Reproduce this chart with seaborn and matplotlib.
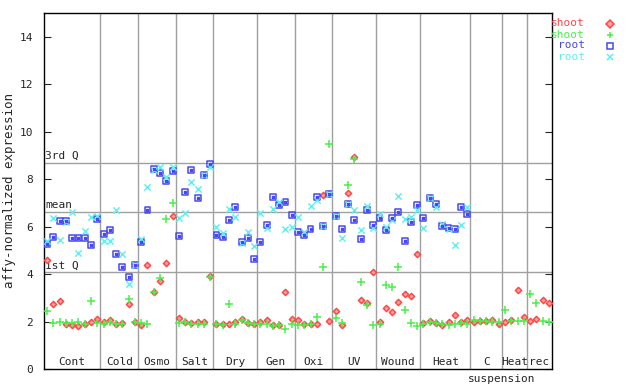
import numpy as np
import pandas as pd
import matplotlib
matplotlib.use('Agg')
import matplotlib.pyplot as plt
import matplotlib.transforms as mtransforms
import seaborn as sns

# sample groups (number of samples per treatment)
groups = ['Cont', 'Cold', 'Osmo', 'Salt', 'Dry', 'Gen', 'Oxi', 'UV', 'Wound', 'Heat', 'C', 'Heat', 'rec']
group_sizes = [9, 6, 6, 6, 7, 6, 6, 7, 7, 8, 5, 4, 4]

shoot_red = [4.6, 2.74, 2.86, 1.91, 1.87, 1.83, 1.91, 1.97, 2.12,
             2.0, 2.07, 1.9, 1.93, 2.74, 1.98,
             1.87, 4.37, 3.25, 3.7, 4.46, 6.44,
             2.14, 1.98, 1.92, 1.98, 1.98, 3.92,
             1.9, 1.91, 1.91, 1.96, 2.1, 1.93, 1.91,
             1.96, 2.07, 1.87, 1.87, 3.23, 2.1,
             2.05, 1.88, 1.91, 1.91, 7.33, 2.01,
             2.43, 1.84, 7.41, 8.93, 2.9, 2.78, 4.08,
             1.97, 2.56, 2.39, 2.81, 3.15, 3.07, 4.84,
             1.93, 2.02, 1.93, 1.87, 1.96, 2.26, 1.96, 2.07,
             1.97, 2.01, 2.03, 2.07, 1.9,
             1.97, 2.07, 3.33, 2.17,
             2.03, 2.11, 2.9, 2.77]

shoot_green = [2.43, 1.93, 1.96, 1.92, 1.94, 2.0, 1.91, 2.86, 1.94,
               1.89, 1.96, 1.9, 1.91, 2.94, 1.98,
               1.93, 1.9, 3.26, 3.84, 6.31, 7.0,
               1.95, 1.96, 1.9, 1.9, 1.9, 3.88,
               1.9, 1.87, 2.73, 1.91, 2.05, 1.93, 1.91,
               1.91, 1.9, 1.83, 1.87, 1.67, 1.91,
               1.85, 1.85, 1.9, 2.18, 4.29, 9.48,
               2.14, 1.94, 7.75, 8.85, 3.66, 2.7, 1.84,
               1.9, 3.53, 3.45, 4.3, 2.48, 1.94, 1.8,
               1.91, 1.96, 1.93, 1.9, 1.87, 1.91, 1.92, 1.9,
               2.07, 2.01, 2.03, 1.97, 1.98,
               2.49, 2.03, 2.01, 2.03,
               3.16, 2.77, 2.04, 1.97]

nan = np.nan
root_blue = [5.26, 5.57, 6.24, 6.22, 5.51, 5.51, 5.51, 5.22, 6.31,
             5.68, 5.86, 4.84, 4.3, 3.87, 4.39,
             5.35, 6.7, 8.44, 8.26, 7.92, 8.34,
             5.6, 7.45, 8.38, 7.2, 8.16, 8.62,
             5.64, 5.56, 6.27, 6.82, 5.35, 5.51, 4.63,
             5.35, 6.06, 7.24, 6.9, 7.03, 6.48,
             5.78, 5.64, 5.89, 7.24, 6.03, 7.37,
             6.44, 5.89, 6.96, 6.27, 5.47, 6.71, 6.06,
             6.36, 5.85, 6.36, 6.62, 5.4, 6.19, 6.9,
             6.36, 7.2, 6.96, 6.02, 5.93, 5.89, 6.82, 6.53] + [nan] * 13

root_cyan = [5.41, 6.36, 5.43, 6.2, 6.62, 4.88, 5.82, 6.4, 6.46,
             5.4, 5.4, 6.7, 4.84, 3.57, 4.4,
             5.49, 7.67, 8.37, 8.5, 8.07, 8.52,
             6.36, 6.57, 7.88, 7.58, 8.16, 8.5,
             5.98, 5.74, 6.74, 6.4, 5.3, 5.78, 5.18,
             6.57, 5.93, 6.74, 7.05, 5.89, 5.98,
             6.4, 5.78, 6.86, 7.13, 6.03, 7.37,
             6.44, 5.51, 6.96, 6.7, 5.85, 6.88, 5.93,
             6.55, 5.99, 6.26, 7.29, 6.31, 6.4, 6.68,
             5.93, 7.2, 6.82, 6.1, 5.89, 5.22, 6.06, 6.82] + [nan] * 13

quartiles = {'3rd Q': 8.68, 'mean': 6.61, '1st Q': 4.08}

n = sum(group_sizes)
pos = np.arange(n) + 0.5

sns.set_style('ticks')
plt.rcParams['font.family'] = ['DejaVu Sans Mono']

fig = plt.figure(figsize=(6.4, 3.84), dpi=100)
ax = fig.add_axes([44 / 640, 15 / 384, 508 / 640, 356 / 384])

grey = '#a0a0a0'
bounds = np.cumsum(group_sizes)
for b in bounds[:-1]:
    ax.axvline(b, color=grey, lw=1, zorder=0)
for name, v in quartiles.items():
    ax.axhline(v, color=grey, lw=1, zorder=0)
    ax.text(0.15, v + 0.08, name, fontsize=8, ha='left', va='bottom')

series = [
    ('shoot', shoot_red, '#ff4848', 'D', 10, '#ffa0a0'),
    ('shoot', shoot_green, '#48f048', '+', 30, None),
    ('root', root_blue, '#4848f0', 's', 18, 'none'),
    ('root', root_cyan, '#60f0f0', 'x', 20, None),
]
for label, vals, col, mk, sz, fc in series:
    df = pd.DataFrame({'pos': pos, 'value': vals}).dropna()
    if fc is None:
        sns.scatterplot(data=df, x='pos', y='value', color=col, marker=mk, s=sz,
                        linewidth=1.1, ax=ax, zorder=3)
    else:
        sns.scatterplot(data=df, x='pos', y='value', marker=mk, s=sz,
                        facecolor=fc, edgecolor=col, linewidth=1.1, ax=ax, zorder=3)
    if mk == 's':
        ax.scatter(df['pos'], df['value'], s=1.5, color=col, marker='s', zorder=4)

ax.set_xlim(0, n)
ax.set_ylim(0, 15)
ax.set_yticks(range(0, 15, 2))
ax.set_xticks([])
ax.set_xlabel('')
ax.set_ylabel('affy-normalized expression', fontsize=9, va='center')
ax.yaxis.set_label_coords(-34 / 508, 0.5)
ax.tick_params(axis='y', direction='in', length=5, right=True, labelsize=8, pad=8)
for sp in ax.spines.values():
    sp.set_visible(True)
    sp.set_color('black')
    sp.set_linewidth(1)

trans = mtransforms.blended_transform_factory(ax.transData, ax.transAxes)
starts = np.concatenate([[0], bounds[:-1]])
for g, s0, s1 in zip(groups, starts, bounds):
    ax.text((s0 + s1) / 2, 0.02, g, fontsize=8, ha='center', va='center', transform=trans)
ax.text(bounds[10], -0.027, 'suspension', fontsize=8, ha='center', va='center',
        transform=trans, clip_on=False)

# legend drawn outside at top right
leg_items = [('shoot', '#ff4848', 'D', '#ffa0a0'), ('shoot', '#48f048', '+', None),
             ('root', '#4848f0', 's', 'none'), ('root', '#60f0f0', 'x', None)]
for k, (lab, col, mk, fc) in enumerate(leg_items):
    yy = 1 - (23.5 + 11 * k) / 384
    fig.text(585 / 640, yy, lab, color=col, fontsize=8, ha='right', va='center')
    if fc is None:
        fig.lines.append(plt.Line2D([610 / 640], [yy], marker=mk, color=col, ms=5,
                                    mew=1.1, ls='none', transform=fig.transFigure))
    else:
        fig.lines.append(plt.Line2D([610 / 640], [yy], marker=mk, mec=col, mfc=fc,
                                    ms=4, mew=1.1, ls='none', transform=fig.transFigure))

fig.savefig('out.png', dpi=100)
